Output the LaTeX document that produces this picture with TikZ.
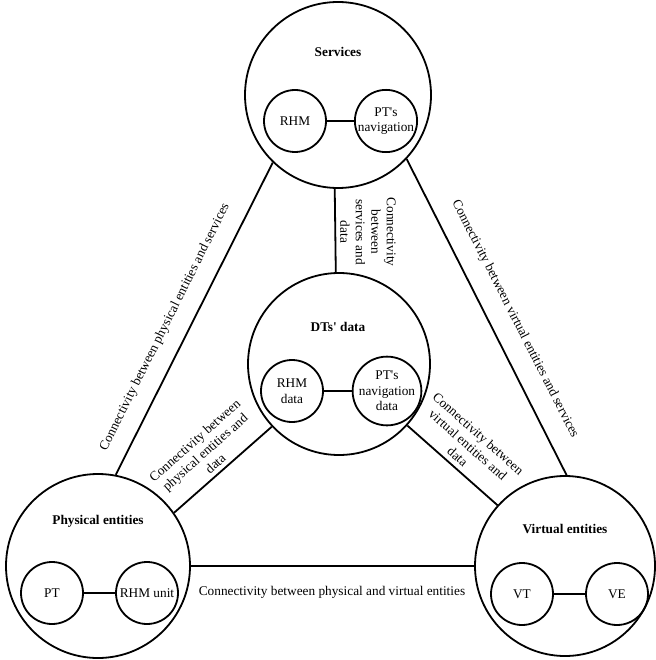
\documentclass[tikz,border=0pt]{standalone}
\usepackage{fontspec}
\setmainfont{Liberation Serif}
\usepackage{tikz}
\usetikzlibrary{positioning}

\begin{document}
\begin{tikzpicture}[
  x=1pt, y=-1pt,
  font=\fontsize{13.3}{15.5}\selectfont,
  big/.style={circle, draw, line width=1.8pt, inner sep=0pt},
  small/.style={circle, draw, line width=1.8pt, minimum size=62pt, inner sep=0pt, align=center},
  ttl/.style={font=\fontsize{13.3}{15.5}\selectfont\bfseries},
  link/.style={line width=1.8pt},
  lbl/.style={align=center, inner sep=0pt},
]
  \useasboundingbox (0,0) rectangle (655,660);

  \node[big, minimum size=186pt] (serv) at (338,95) {};
  \node[big, minimum size=182pt] (dt) at (339,364) {};
  \node[big, minimum size=184pt] (phys) at (98,566) {};
  \node[big, minimum size=180pt] (virt) at (565,566) {};

  \node[ttl] (servT) at (338,52) {Services};
  \node[ttl] (dtT) at (338,327) {DTs\textquotesingle\ data};
  \node[ttl] (physT) at (98,521) {Physical entities};
  \node[ttl] (virtT) at (565,529) {Virtual entities};

  \node[small] (servRHM) at (295,121) {RHM};
  \node[small] (servNav) at (386,121) {PT\textquotesingle s\\navigation};
  \node[small] (dtRHM) at (292,391) {RHM\\data};
  \node[small] (dtNav) at (387,391) {PT\textquotesingle s\\navigation\\data};
  \node[small] (physPT) at (52,593) {PT};
  \node[small] (physRHM) at (147,593) {RHM unit};
  \node[small] (virtVT) at (522,594) {VT};
  \node[small] (virtVE) at (617,594) {VE};

  \draw[link] (servRHM) -- (servNav);
  \draw[link] (dtRHM) -- (dtNav);
  \draw[link] (physPT) -- (physRHM);
  \draw[link] (virtVT) -- (virtVE);

  \draw[link] (phys.79) -- (serv.226);
  \draw[link] (virt.89) -- (serv.317);
  \draw[link] (serv.268) -- (dt.92);
  \draw[link] (phys.35) -- (dt.223);
  \draw[link] (dt.318) -- (virt.138);
  \draw[link] (phys.east) -- (virt.west);

  \node[lbl, rotate=63.4] (lblPS) at (165,327) {Connectivity between physical entities and services};
  \node[lbl, rotate=-63] (lblVS) at (515,319) {Connectivity between virtual entities and services};
  \node[lbl, rotate=-90] (lblSD) at (368,232) {Connectivity\\between\\services and\\data};
  \node[lbl, rotate=41.6] (lblPD) at (205,452) {Connectivity between\\physical entities and\\data};
  \node[lbl, rotate=-41.6] (lblVD) at (468,445) {Connectivity between\\virtual entities and\\data};
  \node[lbl] (lblPV) at (332,592) {Connectivity between physical and virtual entities};
\end{tikzpicture}
\end{document}
